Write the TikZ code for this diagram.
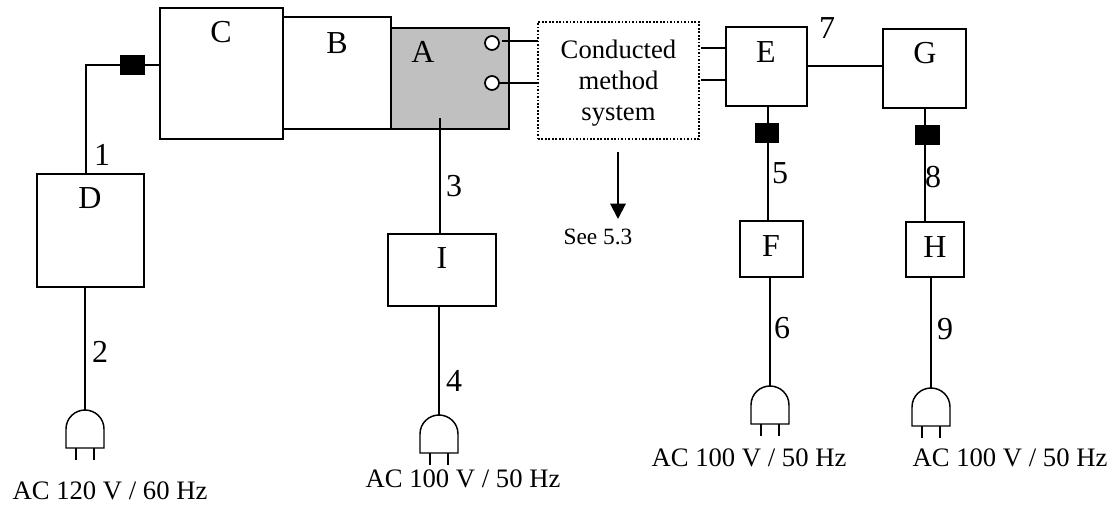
\documentclass[tikz,border=0pt]{standalone}
\usepackage{fontspec}
\setmainfont{Liberation Serif}
\usetikzlibrary{arrows.meta}
\newcommand{\PBox}[6]{\node[blockbox,#6,minimum width={(#4-#2)*0.75pt},minimum height={(#5-#3)*0.75pt}] (#1) at ({(#2+#4)/2},{(#3+#5)/2}) {};}
\newcommand{\PSq}[3]{\node[blacksq] (#1) at (#2,#3) {};}
\newcommand{\PPlug}[3]{\coordinate (#1) at (#2,#3);
 \begin{scope}[shift={(#2,#3)}]
 \draw[wire,line join=miter] (-19,38) -- (-19,19) .. controls (-19,8) and (-10,0) .. (0,0) .. controls (10,0) and (19,8) .. (19,19) -- (19,38) -- cycle;
 \draw[wire,line width=0.9pt] (-9,38) -- (-9,50);
 \draw[wire,line width=0.9pt] (9,38) -- (9,50);
 \end{scope}}
\tikzset{
 wire/.style={line width=1.1pt,black},
 blockbox/.style={draw,line width=1.1pt,inner sep=0pt,outer sep=0pt,fill=white},
 blacksq/.style={fill=black,draw=none,minimum width=18.5pt,minimum height=15pt,inner sep=0pt,outer sep=0pt},
 port/.style={circle,draw,fill=white,line width=1.3pt,minimum size=10.5pt,inner sep=0pt,outer sep=0pt},
 lab/.style={font=\fontsize{24}{28}\selectfont,inner sep=0pt},
 ac/.style={font=\fontsize{20}{24}\selectfont,inner sep=0pt},
}
\begin{document}
\begin{tikzpicture}[x=0.75pt,y=-0.75pt]
\useasboundingbox (0,0) rectangle (1113,507);
% blocks
\PBox{C}{160}{8}{283}{139}{}
\PBox{B}{283}{17}{391}{129}{}
\PBox{A}{391}{28}{509}{129}{fill={rgb,255:red,192;green,192;blue,192}}
\PBox{E}{726}{27}{807}{106}{}
\PBox{G}{883}{29}{966}{108}{}
\PBox{D}{37}{174}{144}{287}{}
\PBox{I}{388}{234}{496}{306}{}
\PBox{F}{740}{221}{803}{277}{}
\PBox{H}{906}{222}{964}{277}{}
\node[draw,line width=1.2pt,dash pattern=on 1.3pt off 1.3pt,inner sep=0pt,outer sep=0pt,minimum width=120.75pt,minimum height=87.75pt] (Cond) at (618.5,80.5) {};
\node[align=center,inner sep=0pt,font=\fontsize{20}{23.3}\selectfont] (CondT) at (618.5,83) {Conducted\\method\\system};
% ports
\node[port] (p1) at (492,43) {};
\node[port] (p2) at (492,83) {};
% plugs
\PPlug{plugD}{85}{410}
\PPlug{plugI}{439}{415}
\PPlug{plugF}{770}{386}
\PPlug{plugH}{931}{388}
% free points
\coordinate (s1) at (502,41);
\coordinate (s3) at (701,48);
\coordinate (s4) at (701,80);
\coordinate (s5) at (808,66);
\coordinate (corner) at (86,65);
\coordinate (aIn) at (440,118);
\coordinate (arrA) at (618,152);
\coordinate (arrB) at (618,219);
\coordinate (xE) at (768,0);
\coordinate (xG) at (925,0);
% connectors
\draw[wire] (D.north -| corner) -- (corner) -- (corner -| C.west);
\draw[wire] (D.south -| plugD) -- (plugD);
\draw[wire] (aIn) -- (aIn |- I.north);
\draw[wire] (I.south -| plugI) -- (plugI);
\draw[wire] (s1) -- (s1 -| Cond.west);
\draw[wire] (p2.east) -- (p2.east -| Cond.west);
\draw[wire] (s3) -- (s3 -| E.west);
\draw[wire] (s4) -- (s4 -| E.west);
\draw[wire] (s5) -- (s5 -| G.west);
\draw[wire] (E.south -| xE) -- (F.north -| xE);
\draw[wire] (G.south -| xG) -- (H.north -| xG);
\draw[wire] (F.south -| plugF) -- (plugF);
\draw[wire] (H.south -| plugH) -- (plugH);
\draw[line width=1.5pt,-{Triangle[length=11.5pt,width=11.5pt]}] (arrA) -- (arrB);
% black squares
\PSq{q1}{132.5}{65}
\PSq{q2}{767}{133}
\PSq{q3}{927.5}{134.5}
% labels
\node[lab] (tC) at (221,32) {C};
\node[lab] (tB) at (337,43) {B};
\node[lab] (tA) at (423,52) {A};
\node[lab] (tD) at (90,198) {D};
\node[lab] (tE) at (766,52) {E};
\node[lab] (tG) at (925,53) {G};
\node[lab] (tF) at (771,246) {F};
\node[lab] (tH) at (935,247) {H};
\node[lab] (tI) at (442,258) {I};
\node[lab] (n1) at (102,155) {1};
\node[lab] (n2) at (100,352) {2};
\node[lab] (n3) at (454,186) {3};
\node[lab] (n4) at (454,381) {4};
\node[lab] (n5) at (780,173) {5};
\node[lab] (n6) at (782,328) {6};
\node[lab] (n7) at (827,28) {7};
\node[lab] (n8) at (933,177) {8};
\node[lab] (n9) at (945,329) {9};
\node[ac,font=\fontsize{17.5}{20}\selectfont] (see) at (598,237) {See 5.3};
\node[ac] (ac1) at (110,491) {AC 120 V / 60 Hz};
\node[ac] (ac2) at (463,479) {AC 100 V / 50 Hz};
\node[ac] (ac3) at (749,458) {AC 100 V / 50 Hz};
\node[ac] (ac4) at (1010,458) {AC 100 V / 50 Hz};
\end{tikzpicture}
\end{document}
